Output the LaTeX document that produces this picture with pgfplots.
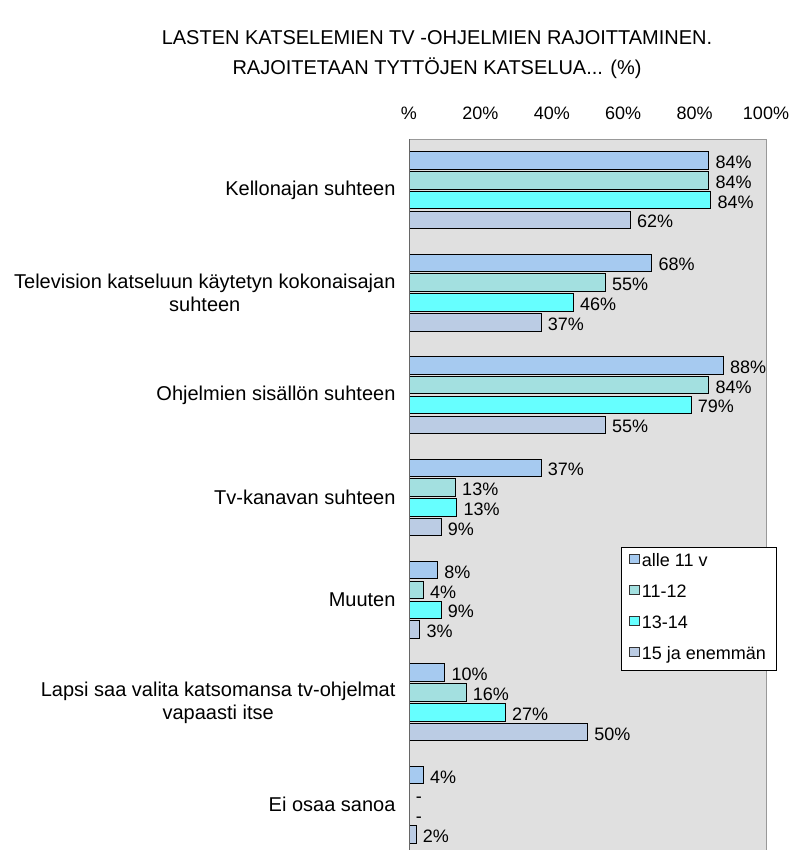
\documentclass[border=0pt]{standalone}
\usepackage{pgfplots}
\pgfplotsset{compat=1.18}
\usepackage{pgfplotstable}
\usepackage{fontspec}
\setmainfont{Liberation Sans}
\definecolor{cA}{HTML}{A6CAF0}
\definecolor{cB}{HTML}{A3E0E0}
\definecolor{cC}{HTML}{66FFFF}
\definecolor{cD}{HTML}{BBCCE4}
\definecolor{bg}{HTML}{E0E0E0}
\pgfplotstableread{
y x lab
0 84 84\%
1 68 68\%
2 88 88\%
3 37 37\%
4 8 8\%
5 10 10\%
6 4 4\%
}\serA
\pgfplotstableread{
y x lab
0 84 84\%
1 55 55\%
2 84 84\%
3 13 13\%
4 4 4\%
5 16 16\%
6 0 -
}\serB
\pgfplotstableread{
y x lab
0 84.5 84\%
1 46 46\%
2 79 79\%
3 13.4 13\%
4 9 9\%
5 27 27\%
6 0 -
}\serC
\pgfplotstableread{
y x lab
0 62 62\%
1 37 37\%
2 55 55\%
3 9 9\%
4 3 3\%
5 50 50\%
6 2 2\%
}\serD
\begin{document}
\begin{tikzpicture}[x=1pt,y=1pt]
\useasboundingbox (0,0) rectangle (791,850);
\node[align=center, font=\fontsize{20}{30}\selectfont] at (437,795)
  {LASTEN KATSELEMIEN TV -OHJELMIEN RAJOITTAMINEN.\\RAJOITETAAN TYTTÖJEN KATSELUA... (\%)};
\begin{axis}[
  at={(409pt,-6pt)}, anchor=south west,
  scale only axis, width=357pt, height=717pt,
  xbar, bar width=17.5pt,
  xmin=0, xmax=100, ymin=-0.5, ymax=6.5, y dir=reverse,
  axis background/.style={fill=bg},
  axis line style={draw=black!40, line width=1pt},
  major tick length=0pt,
  xtick={0,20,40,60,80,100},
  xticklabels={\%,20\%,40\%,60\%,80\%,100\%},
  xticklabel pos=upper,
  xticklabel style={anchor=base, yshift=20pt, font=\fontsize{18}{22}\selectfont},
  ytick={0,1,2,3,4,5,6},
  yticklabels={Kellonajan suhteen,{Television katseluun käytetyn kokonaisajan\\suhteen},Ohjelmien sisällön suhteen,Tv-kanavan suhteen,Muuten,{Lapsi saa valita katsomansa tv-ohjelmat\\vapaasti itse},Ei osaa sanoa},
  yticklabel style={align=center, xshift=-10pt, font=\fontsize{20}{23}\selectfont},
  nodes near coords, point meta=explicit symbolic,
  nodes near coords style={font=\fontsize{18}{22}\selectfont, anchor=base west, yshift=-8pt, xshift=3pt},
  every axis plot/.append style={draw=black, line width=1pt,
    legend image code/.code={\draw[##1, draw=black!80, line width=0.6pt] (0pt,-1pt) rectangle (10pt,8pt);}},
  legend style={at={(0.594,0.431)}, anchor=north west, draw=black, fill=white,
    font=\fontsize{18}{22}\selectfont, row sep=8pt, inner xsep=8pt, inner ysep=3.5pt,
    nodes={inner xsep=2pt, inner ysep=3pt, text height=13pt, text depth=4pt}},
  legend cell align=left,
]
\addplot[fill=cA, bar shift=29.7pt] table[x=x, y=y, meta=lab] {\serA};
\addplot[fill=cB, bar shift=9.9pt] table[x=x, y=y, meta=lab] {\serB};
\addplot[fill=cC, bar shift=-9.9pt] table[x=x, y=y, meta=lab] {\serC};
\addplot[fill=cD, bar shift=-29.7pt] table[x=x, y=y, meta=lab] {\serD};
\legend{alle 11 v,11-12,13-14,15 ja enemmän}
\draw[black!60, line width=1.2pt] (axis description cs:0,0) -- (axis description cs:0,1);
\end{axis}
\end{tikzpicture}
\end{document}
